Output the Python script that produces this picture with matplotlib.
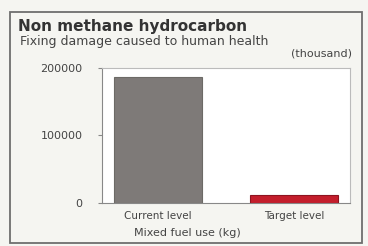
import matplotlib.pyplot as plt
import matplotlib.patches as patches

# datos del grafico
categorias = ['Current level', 'Target level']
valores = [186000, 12000]
colores = ['#7e7a78', '#c41e2c']
ticks_y = [0, 100000, 200000]

fig = plt.figure(figsize=(3.68, 2.46), dpi=100)
fig.patch.set_facecolor('#f5f5f1')

# marco exterior
marco = patches.Rectangle((0.027, 0.012), 0.957, 0.939, transform=fig.transFigure,
                          fill=False, edgecolor='#6e6e6e', linewidth=1.3)
fig.patches.append(marco)

ax = fig.add_axes([0.277, 0.175, 0.674, 0.549])
ax.set_facecolor('white')
ax.bar(range(len(categorias)), valores, color=colores, width=0.65,
       edgecolor=['#6c6a66', '#8e1420'], linewidth=0.8)
ax.set_xlim(-0.41, 1.41)
ax.set_ylim(0, 200000)
ax.set_yticks(ticks_y)
ax.set_yticklabels([f'{v:d}' for v in ticks_y], fontsize=8, color='#444444')
ax.set_xticks(range(len(categorias)))
ax.set_xticklabels(categorias, fontsize=7.5, color='#444444')
for s in ['top', 'right', 'left', 'bottom']:
    ax.spines[s].set_color('#bbbbbb')
ax.spines['left'].set_color('#888888')
ax.spines['bottom'].set_color('#888888')
ax.tick_params(axis='y', length=3, pad=11, colors='#888888', labelcolor='#444444')
ax.tick_params(axis='x', length=0, pad=6, labelcolor='#444444')

fig.text(0.049, 0.894, 'Non methane hydrocarbon', fontsize=11, fontweight='bold',
         color='#333333', va='center')
fig.text(0.054, 0.832, 'Fixing damage caused to human health', fontsize=9,
         color='#444444', va='center')
fig.text(0.957, 0.783, '(thousand)', fontsize=8, color='#444444', ha='right', va='center')
fig.text(0.508, 0.053, 'Mixed fuel use (kg)', fontsize=8, color='#444444',
         ha='center', va='center')

plt.savefig('out.png', dpi=100, facecolor=fig.get_facecolor())
